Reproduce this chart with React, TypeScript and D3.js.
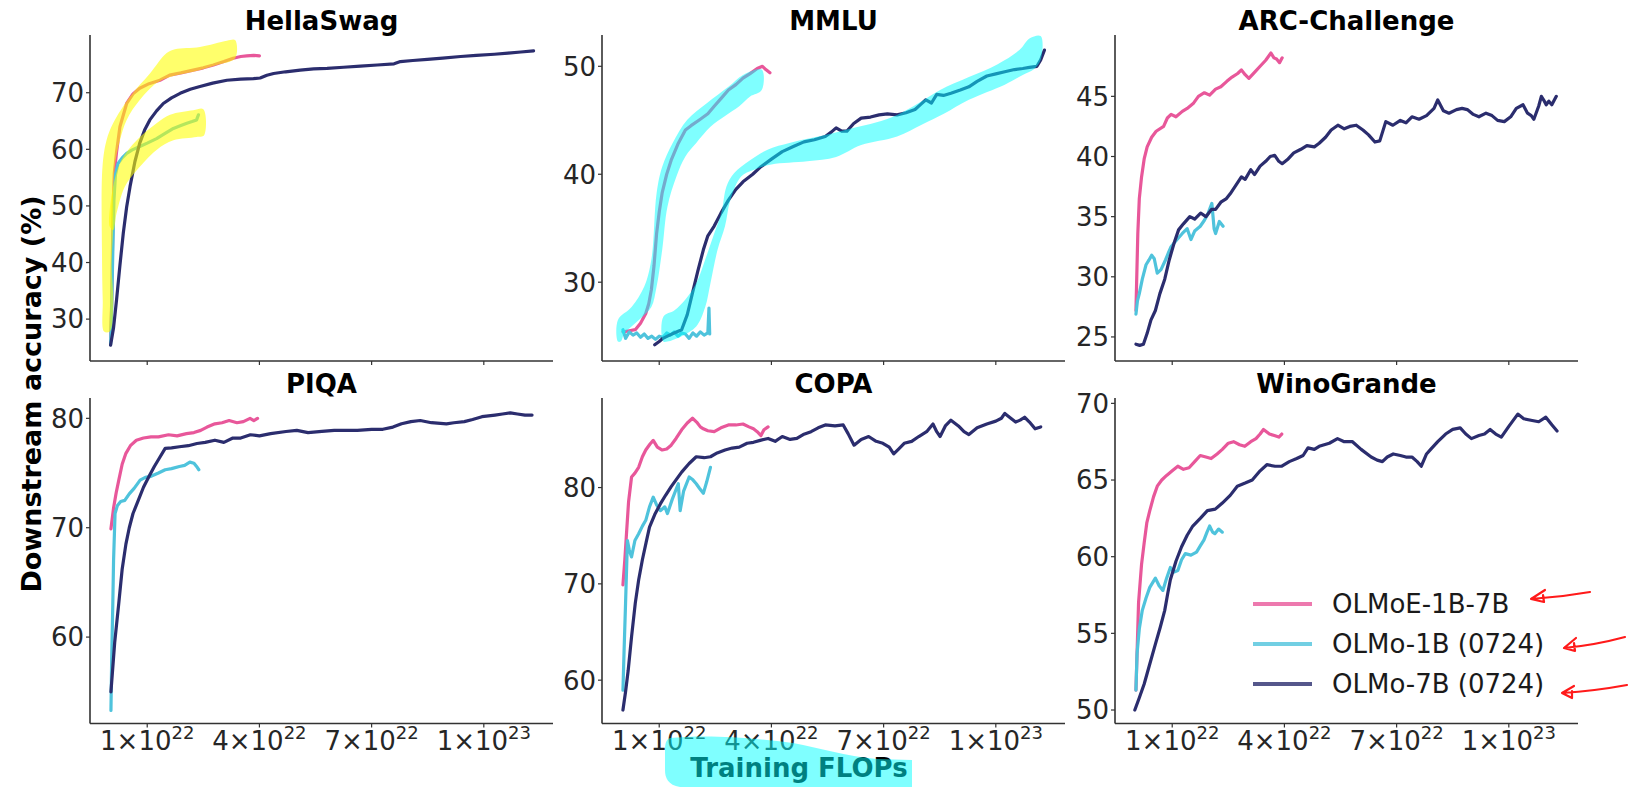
import React from 'react';
import * as d3 from 'd3';

type Pt = [number, number];

// ---------- series names / colours ----------
const SERIES_NAMES = ['OLMoE-1B-7B', 'OLMo-1B (0724)', 'OLMo-7B (0724)'];
const SERIES_COLORS = ['#e8579a', '#4fc3dc', '#2b2d6e'];

// ---------- x axis (training FLOPs, in units of 1e22) ----------
const X_DOMAIN: Pt = [-0.53, 11.85];
const X_TICKS = [1, 4, 7, 10];
const X_TICK_MANT = ['1', '4', '7', '1'];
const X_TICK_EXP = ['22', '22', '22', '23'];

// ---------- HellaSwag ----------
const hsPink: Pt[] = [[0.02,26],[0.05,33],[0.07,42],[0.09,50],[0.12,55.8],[0.18,59.5],[0.27,64],[0.45,68.1],[0.62,69.8],[0.8,70.8],[1.05,71.6],[1.34,72.2],[1.6,73.1],[1.9,73.5],[2.23,74.0],[2.5,74.4],[2.77,74.9],[3.05,75.5],[3.3,76.1],[3.5,76.4],[3.66,76.5],[3.85,76.6],[4.0,76.5]];
const hsCyan: Pt[] = [[0.02,25.5],[0.05,32],[0.08,42],[0.11,51],[0.15,55.5],[0.22,57.5],[0.33,58.5],[0.45,59.3],[0.6,59.9],[0.8,60.5],[1.0,61.1],[1.25,61.9],[1.5,62.9],[1.7,63.7],[1.9,64.2],[2.06,64.6],[2.2,64.9],[2.32,65.2],[2.37,66.1]];
const hsNavy: Pt[] = [[0.02,25.4],[0.1,28.5],[0.18,33.4],[0.27,39.5],[0.36,45.2],[0.45,49.8],[0.54,53.4],[0.67,57.8],[0.8,61.1],[0.93,63.4],[1.07,65.2],[1.25,66.8],[1.43,68.1],[1.65,69.1],[1.88,69.9],[2.15,70.6],[2.41,71.1],[2.75,71.7],[3.13,72.2],[3.5,72.4],[3.84,72.5],[4.02,72.6],[4.2,73.1],[4.38,73.4],[4.7,73.7],[5.09,74.0],[5.45,74.2],[5.81,74.3],[6.25,74.5],[6.7,74.7],[7.15,74.9],[7.6,75.1],[7.77,75.5],[8.1,75.7],[8.49,75.9],[8.9,76.1],[9.38,76.4],[9.8,76.6],[10.28,76.8],[10.65,77.0],[10.99,77.2],[11.33,77.4]];

// ---------- MMLU ----------
const mmluPink: Pt[] = [[0.03,25.4],[0.2,25.5],[0.36,25.6],[0.5,26.2],[0.64,27.1],[0.72,28.0],[0.79,29.3],[0.86,31.5],[0.93,34.5],[1.0,36.5],[1.08,38.3],[1.2,40.0],[1.32,41.3],[1.5,42.8],[1.7,44.1],[1.85,44.5],[2.08,45.05],[2.3,45.6],[2.47,46.3],[2.65,47.0],[2.85,47.8],[3.05,48.3],[3.24,48.9],[3.42,49.3],[3.62,49.8],[3.76,50.0],[3.85,49.7],[3.96,49.4]];
const mmluCyan: Pt[] = [[0.03,25.6],[0.1,24.8],[0.2,25.4],[0.3,25.1],[0.4,25.3],[0.5,24.9],[0.6,25.2],[0.7,24.8],[0.8,25.0],[0.9,24.7],[1.0,25.0],[1.1,24.9],[1.2,25.3],[1.3,25.1],[1.4,25.4],[1.5,25.0],[1.6,25.3],[1.7,25.2],[1.8,24.8],[1.9,25.3],[2.0,25.0],[2.1,25.4],[2.2,25.1],[2.3,25.3],[2.33,27.6],[2.35,25.2]];
const mmluNavy: Pt[] = [[0.88,24.2],[1.0,24.5],[1.1,24.8],[1.22,25.0],[1.4,25.3],[1.6,25.6],[1.75,27.0],[1.89,29.0],[2.03,31.0],[2.18,33.0],[2.3,34.3],[2.47,35.2],[2.65,36.4],[2.85,37.6],[3.05,38.6],[3.24,39.3],[3.5,40.0],[3.72,40.7],[4.0,41.4],[4.29,42.1],[4.6,42.6],[4.87,43.0],[5.15,43.2],[5.44,43.5],[5.6,43.9],[5.73,44.3],[5.88,44.0],[6.02,44.0],[6.2,44.7],[6.4,45.2],[6.65,45.3],[6.88,45.5],[7.1,45.6],[7.36,45.5],[7.6,45.7],[7.84,46.0],[8.0,46.5],[8.13,46.9],[8.28,46.6],[8.42,47.4],[8.6,47.3],[8.8,47.5],[9.05,47.8],[9.28,48.1],[9.5,48.6],[9.76,49.1],[10.0,49.3],[10.24,49.5],[10.5,49.7],[10.72,49.8],[10.9,49.9],[11.1,50.0],[11.2,50.6],[11.3,51.5]];

// ---------- ARC-Challenge ----------
const arcPink: Pt[] = [[0.03,27.2],[0.08,33.6],[0.12,36.5],[0.18,38.3],[0.25,39.8],[0.33,40.8],[0.45,41.6],[0.57,42.1],[0.77,42.5],[0.87,43.2],[0.97,43.5],[1.1,43.3],[1.27,43.75],[1.4,44.0],[1.56,44.4],[1.7,45.0],[1.86,45.3],[2.0,45.1],[2.16,45.6],[2.3,45.8],[2.46,46.25],[2.6,46.6],[2.75,46.9],[2.85,47.2],[2.95,46.8],[3.05,46.5],[3.2,47.0],[3.35,47.5],[3.5,48.0],[3.64,48.6],[3.72,48.2],[3.79,48.1],[3.87,47.8],[3.94,48.2]];
const arcCyan: Pt[] = [[0.03,26.9],[0.07,28.0],[0.12,28.6],[0.2,29.8],[0.3,31.0],[0.38,31.4],[0.45,31.8],[0.52,31.5],[0.6,30.3],[0.7,30.6],[0.82,31.4],[0.9,32.0],[0.97,32.5],[1.1,33.0],[1.27,33.6],[1.4,34.0],[1.5,33.1],[1.6,33.8],[1.75,34.2],[1.86,34.7],[1.95,35.2],[2.06,36.1],[2.12,34.0],[2.16,33.6],[2.26,34.6],[2.36,34.2]];
const arcNavy: Pt[] = [[0.03,24.4],[0.13,24.3],[0.23,24.4],[0.33,25.3],[0.43,26.4],[0.55,27.2],[0.67,28.6],[0.8,29.8],[0.92,31.4],[1.05,32.8],[1.17,33.9],[1.3,34.4],[1.47,35.0],[1.6,34.8],[1.76,35.3],[1.9,35.0],[2.05,35.6],[2.16,35.6],[2.3,36.2],[2.45,36.5],[2.55,36.9],[2.7,37.6],[2.85,38.3],[2.95,38.1],[3.1,38.9],[3.2,38.5],[3.35,39.2],[3.5,39.6],[3.62,40.0],[3.74,40.1],[3.85,39.6],[3.94,39.4],[4.1,39.8],[4.25,40.3],[4.44,40.6],[4.6,40.9],[4.8,40.8],[4.93,41.1],[5.1,41.6],[5.25,42.2],[5.43,42.6],[5.6,42.3],[5.75,42.5],[5.92,42.6],[6.1,42.2],[6.25,41.8],[6.42,41.2],[6.55,41.3],[6.71,42.9],[6.9,42.6],[7.1,43.0],[7.25,42.8],[7.41,43.3],[7.6,43.1],[7.8,43.4],[8.0,44.0],[8.1,44.7],[8.25,43.8],[8.4,43.6],[8.6,43.9],[8.75,44.0],[8.89,43.9],[9.05,43.5],[9.2,43.3],[9.39,43.6],[9.55,43.4],[9.7,43.0],[9.88,42.9],[10.05,43.3],[10.2,44.0],[10.38,44.3],[10.5,43.6],[10.6,43.4],[10.67,43.1],[10.8,44.2],[10.87,45.0],[10.95,44.6],[11.0,44.3],[11.07,44.6],[11.15,44.3],[11.27,45.0]];

// ---------- PIQA ----------
const piqaPink: Pt[] = [[0.03,69.9],[0.1,71.8],[0.17,73.2],[0.24,74.35],[0.33,75.8],[0.43,76.8],[0.55,77.5],[0.71,78.0],[0.9,78.2],[1.1,78.3],[1.3,78.3],[1.57,78.5],[1.8,78.4],[2.05,78.6],[2.25,78.7],[2.43,78.9],[2.6,79.2],[2.81,79.5],[3.0,79.6],[3.19,79.8],[3.4,79.6],[3.57,79.7],[3.75,80.0],[3.85,79.8],[3.95,80.0]];
const piqaCyan: Pt[] = [[0.03,53.3],[0.05,58],[0.08,63.1],[0.1,67],[0.14,71.3],[0.2,72.0],[0.29,72.4],[0.4,72.5],[0.52,73.1],[0.65,73.6],[0.81,74.35],[0.95,74.6],[1.1,74.7],[1.3,75.0],[1.48,75.3],[1.65,75.4],[1.86,75.6],[2.0,75.7],[2.14,76.0],[2.25,75.9],[2.32,75.6],[2.38,75.3]];
const piqaNavy: Pt[] = [[0.03,55.0],[0.13,59.5],[0.24,63.1],[0.33,66.2],[0.43,68.5],[0.52,70.0],[0.62,71.3],[0.75,72.4],[0.9,73.7],[1.05,74.7],[1.19,75.6],[1.33,76.4],[1.48,77.25],[1.65,77.3],[1.86,77.4],[2.1,77.5],[2.33,77.7],[2.55,77.8],[2.81,78.0],[3.05,77.8],[3.29,78.2],[3.5,78.2],[3.76,78.5],[4.0,78.4],[4.3,78.6],[4.71,78.8],[5.0,78.9],[5.3,78.7],[5.67,78.8],[6.0,78.9],[6.3,78.9],[6.62,78.9],[7.0,79.0],[7.3,79.0],[7.57,79.2],[7.8,79.5],[8.05,79.7],[8.3,79.8],[8.6,79.6],[9.0,79.5],[9.2,79.6],[9.48,79.7],[9.7,79.9],[9.95,80.15],[10.3,80.3],[10.5,80.4],[10.71,80.5],[10.9,80.4],[11.1,80.3],[11.29,80.3]];

// ---------- COPA ----------
const copaPink: Pt[] = [[0.03,69.9],[0.08,72.5],[0.12,74.9],[0.18,78.5],[0.26,81.1],[0.35,81.5],[0.45,82.1],[0.55,83.2],[0.64,83.9],[0.75,84.5],[0.84,84.9],[0.95,84.2],[1.08,83.9],[1.2,84.0],[1.32,84.4],[1.45,85.1],[1.6,86.0],[1.75,86.7],[1.89,87.2],[2.0,86.8],[2.1,86.3],[2.18,86.1],[2.3,85.9],[2.47,85.8],[2.65,86.2],[2.85,86.5],[3.05,86.5],[3.24,86.6],[3.4,86.3],[3.52,86.1],[3.62,85.8],[3.72,85.4],[3.8,86.0],[3.91,86.3]];
const copaCyan: Pt[] = [[0.03,58.96],[0.06,63],[0.1,68.0],[0.15,74.5],[0.2,73.5],[0.26,72.8],[0.35,74.5],[0.45,75.2],[0.55,76.0],[0.64,76.6],[0.74,78.0],[0.84,79.0],[0.93,78.2],[1.03,77.6],[1.15,78.0],[1.22,77.3],[1.35,78.8],[1.51,80.4],[1.56,77.6],[1.65,79.6],[1.8,81.1],[1.9,80.8],[1.99,80.4],[2.08,79.9],[2.18,79.4],[2.27,80.6],[2.37,82.1]];
const copaNavy: Pt[] = [[0.03,56.9],[0.1,58.8],[0.17,61.0],[0.26,64.5],[0.36,68.0],[0.45,70.4],[0.55,72.5],[0.65,74.3],[0.74,75.9],[0.88,77.2],[1.03,78.3],[1.17,79.2],[1.32,80.1],[1.45,80.8],[1.6,81.6],[1.8,82.5],[1.99,83.2],[2.2,83.1],[2.37,83.2],[2.55,83.6],[2.76,83.9],[2.95,84.1],[3.14,84.2],[3.35,84.6],[3.52,84.7],[3.7,84.9],[3.91,85.1],[4.1,84.8],[4.29,85.3],[4.5,85.0],[4.68,85.1],[4.85,85.5],[5.06,85.8],[5.25,86.2],[5.44,86.5],[5.7,86.4],[5.92,86.5],[6.05,85.6],[6.21,84.4],[6.4,85.0],[6.6,85.3],[6.8,84.8],[6.98,84.6],[7.15,84.2],[7.27,83.5],[7.4,84.0],[7.55,84.6],[7.75,84.8],[7.94,85.3],[8.15,85.8],[8.32,86.6],[8.42,85.8],[8.51,85.3],[8.65,86.4],[8.8,87.0],[9.0,86.4],[9.15,85.8],[9.28,85.5],[9.5,86.2],[9.76,86.6],[10.0,86.9],[10.15,87.2],[10.24,87.7],[10.4,87.2],[10.53,86.8],[10.65,87.0],[10.77,87.3],[10.9,86.8],[11.05,86.1],[11.2,86.3]];

// ---------- WinoGrande ----------
const winoPink: Pt[] = [[0.03,51.3],[0.1,57.0],[0.18,59.5],[0.25,60.9],[0.32,62.2],[0.4,63.0],[0.5,63.9],[0.6,64.6],[0.72,65.0],[0.85,65.3],[1.0,65.6],[1.15,65.9],[1.3,65.7],[1.45,65.8],[1.6,66.2],[1.75,66.6],[1.9,66.5],[2.04,66.4],[2.2,66.7],[2.34,67.0],[2.5,67.4],[2.64,67.5],[2.8,67.3],[2.94,67.2],[3.1,67.5],[3.24,67.7],[3.35,68.0],[3.44,68.3],[3.6,68.0],[3.73,67.9],[3.85,67.8],[3.93,68.0]];
const winoCyan: Pt[] = [[0.03,51.3],[0.06,53.7],[0.12,55.3],[0.2,56.5],[0.3,57.3],[0.4,58.0],[0.55,58.6],[0.65,58.1],[0.75,57.8],[0.85,58.6],[0.95,59.3],[1.05,59.0],[1.15,59.1],[1.25,59.8],[1.35,60.2],[1.5,60.1],[1.65,60.3],[1.75,60.7],[1.85,61.1],[1.93,61.6],[2.0,62.0],[2.08,61.6],[2.14,61.5],[2.24,61.8],[2.34,61.6]];
const winoNavy: Pt[] = [[0.0,50.0],[0.12,50.8],[0.25,51.7],[0.4,53.0],[0.55,54.3],[0.68,55.4],[0.8,56.5],[0.88,57.6],[0.95,58.5],[1.1,59.7],[1.25,60.65],[1.4,61.4],[1.55,62.0],[1.75,62.5],[1.94,63.0],[2.15,63.1],[2.34,63.5],[2.55,64.0],[2.74,64.6],[2.95,64.8],[3.14,65.0],[3.35,65.6],[3.53,66.0],[3.75,65.9],[3.93,65.9],[4.13,66.2],[4.33,66.4],[4.5,66.6],[4.63,67.1],[4.8,67.0],[4.93,67.2],[5.2,67.4],[5.42,67.7],[5.6,67.5],[5.82,67.5],[6.05,67.0],[6.32,66.5],[6.48,66.3],[6.62,66.2],[6.75,66.5],[6.91,66.7],[7.1,66.6],[7.25,66.5],[7.41,66.5],[7.55,66.2],[7.66,65.9],[7.8,66.7],[7.91,67.0],[8.1,67.5],[8.31,68.0],[8.5,68.3],[8.7,68.4],[8.85,68.0],[9.0,67.7],[9.2,67.9],[9.35,68.0],[9.5,68.3],[9.65,68.0],[9.8,67.8],[10.0,68.5],[10.24,69.3],[10.4,69.0],[10.59,68.9],[10.8,68.8],[10.99,69.1],[11.15,68.6],[11.29,68.2]];

// ---------- annotation highlights (data coordinates of their panel) ----------
const hlYellowPink: Pt[] = [[-0.153,27.8],[-0.19,33.4],[-0.21,42.2],[-0.196,56.9],[-0.088,61.6],[0.088,64.6],[0.536,69.3],[1.072,73.4],[1.52,77.0],[1.74,77.7],[2.41,78.1],[3.13,79.2],[3.35,79.3],[3.35,76.1],[2.86,74.9],[2.23,73.7],[1.61,72.8],[1.25,71.7],[0.8,68.7],[0.45,65.2],[0.27,61.6],[0.13,56.9],[0.09,52.3],[0.09,46.3],[0.05,39.3],[0.09,32.8],[0.0,27.8]];
const hlYellowCyan: Pt[] = [[0.0,46.3],[0.088,53.4],[0.31,58.1],[0.72,61.6],[1.25,64.6],[1.61,66.1],[2.23,66.9],[2.5,67.1],[2.52,62.5],[2.32,62.2],[1.7,61.6],[1.25,59.9],[0.72,56.3],[0.4,53.4],[0.18,48.7],[0.09,45.7]];
const hlCyanPink: Pt[] = [[-0.104,24.5],[-0.104,26.5],[0.26,27.7],[0.6,29.6],[0.79,32.1],[0.93,38.25],[1.08,40.7],[1.36,42.9],[1.75,45.05],[2.28,46.6],[2.85,48.1],[3.24,49.2],[3.74,49.7],[3.74,47.8],[3.43,47.2],[3.14,46.3],[2.76,45.4],[2.37,44.4],[1.99,42.9],[1.7,41.65],[1.46,39.8],[1.22,37.0],[1.08,33.0],[0.93,29.6],[0.79,27.7],[0.55,26.8],[0.26,25.9],[0.07,25.3],[-0.03,24.5]];
const hlCyanNavy: Pt[] = [[1.11,24.5],[1.11,26.8],[1.41,27.4],[1.7,28.4],[1.99,29.9],[2.23,32.1],[2.47,34.5],[2.66,36.4],[2.8,38.9],[3.0,40.1],[3.43,41.3],[3.91,42.3],[4.48,42.9],[5.06,43.35],[5.64,43.8],[6.21,44.3],[6.79,44.8],[7.36,45.5],[7.94,46.6],[8.51,47.8],[9.28,49.0],[10.05,50.2],[10.63,51.5],[10.91,52.6],[11.2,52.8],[11.2,50.6],[11.01,49.7],[10.72,49.2],[10.24,48.3],[9.28,46.9],[8.61,45.6],[8.03,44.6],[7.36,43.5],[6.4,42.7],[5.73,41.6],[4.96,41.2],[4.0,40.9],[3.52,40.4],[3.19,39.8],[2.9,37.6],[2.76,35.2],[2.56,33.0],[2.37,29.9],[2.23,27.7],[1.99,25.9],[1.6,25.0],[1.22,24.5]];

type Panel = {
  title: string; row: number; col: number;
  yDomain: Pt; yTicks: number[];
  series: Pt[][];
  highlights: { pts: Pt[]; color: string }[];
};

const YELLOW = 'rgba(255,255,0,0.58)';
const CYAN_HL = 'rgba(0,255,255,0.5)';

const PANELS: Panel[] = [
  { title: 'HellaSwag', row: 0, col: 0, yDomain: [22.6, 80.2], yTicks: [30, 40, 50, 60, 70], series: [hsPink, hsCyan, hsNavy],
    highlights: [{ pts: hlYellowPink, color: YELLOW }, { pts: hlYellowCyan, color: YELLOW }] },
  { title: 'MMLU', row: 0, col: 1, yDomain: [22.7, 52.9], yTicks: [30, 40, 50], series: [mmluPink, mmluCyan, mmluNavy],
    highlights: [{ pts: hlCyanPink, color: CYAN_HL }, { pts: hlCyanNavy, color: CYAN_HL }] },
  { title: 'ARC-Challenge', row: 0, col: 2, yDomain: [23.0, 50.1], yTicks: [25, 30, 35, 40, 45], series: [arcPink, arcCyan, arcNavy], highlights: [] },
  { title: 'PIQA', row: 1, col: 0, yDomain: [52.1, 81.86], yTicks: [60, 70, 80], series: [piqaPink, piqaCyan, piqaNavy], highlights: [] },
  { title: 'COPA', row: 1, col: 1, yDomain: [55.5, 89.3], yTicks: [60, 70, 80], series: [copaPink, copaCyan, copaNavy], highlights: [] },
  { title: 'WinoGrande', row: 1, col: 2, yDomain: [49.12, 70.35], yTicks: [50, 55, 60, 65, 70], series: [winoPink, winoCyan, winoNavy], highlights: [] },
];

// ---------- layout ----------
const W = 1640, H = 787;
const COL_LEFT = [90, 602, 1115];
const AX_W = 463;
const ROW_TOP = [35, 398];
const ROW_BOTTOM = [361, 723.5];
const FONT = 'DejaVu Sans, Verdana, sans-serif';
const TICK_FS = 26;
const AXIS_COLOR = '#333';

function PanelView({ p }: { p: Panel }) {
  const x0 = COL_LEFT[p.col], x1 = x0 + AX_W;
  const yTop = ROW_TOP[p.row], yBot = ROW_BOTTOM[p.row];
  const x = d3.scaleLinear().domain(X_DOMAIN).range([x0, x1]);
  const y = d3.scaleLinear().domain(p.yDomain).range([yBot, yTop]);
  const line = d3.line<Pt>().x(d => x(d[0])).y(d => y(d[1]));
  const area = d3.line<Pt>().x(d => x(d[0])).y(d => y(d[1])).curve(d3.curveCatmullRomClosed.alpha(0.5));
  return (
    <g>
      <text x={(x0 + x1) / 2} y={yTop - 5} textAnchor="middle" fontFamily={FONT} fontWeight="bold" fontSize={26} fill="#000">{p.title}</text>
      <line x1={x0} y1={yTop} x2={x0} y2={yBot} stroke={AXIS_COLOR} strokeWidth={1.6} />
      <line x1={x0} y1={yBot} x2={x1} y2={yBot} stroke={AXIS_COLOR} strokeWidth={1.6} />
      {p.yTicks.map(t => (
        <g key={t}>
          <line x1={x0 - 4} x2={x0} y1={y(t)} y2={y(t)} stroke={AXIS_COLOR} strokeWidth={1.2} />
          <text x={x0 - 6} y={y(t)} dy="0.36em" textAnchor="end" fontFamily={FONT} fontSize={TICK_FS} fill="#262626">{t}</text>
        </g>
      ))}
      {X_TICKS.map((t, i) => (
        <g key={t}>
          <line x1={x(t)} x2={x(t)} y1={yBot} y2={yBot + 4} stroke={AXIS_COLOR} strokeWidth={1.2} />
          {p.row === 1 && (
            <text x={x(t)} y={yBot + 26} textAnchor="middle" fontFamily={FONT} fontSize={TICK_FS} fill="#262626">
              {X_TICK_MANT[i]}×10<tspan dy={-11} fontSize={18}>{X_TICK_EXP[i]}</tspan>
            </text>
          )}
        </g>
      ))}
      {p.series.map((s, i) => (
        <path key={i} d={line(s) || ''} fill="none" stroke={SERIES_COLORS[i]} strokeWidth={3.2} strokeLinejoin="round" strokeLinecap="round" />
      ))}
      {p.highlights.map((h, i) => (
        <path key={'h' + i} d={area(h.pts) || ''} fill={h.color} stroke="none" />
      ))}
    </g>
  );
}

// legend + arrows
const LEG_X1 = 1253, LEG_X2 = 1312, LEG_TX = 1332;
const LEG_Y = [604, 644, 684];
const ARROW_TIPS: Pt[] = [[1531, 599], [1564, 648], [1562, 693]];
const ARROW_TAILS: Pt[] = [[59, -7], [61, -11], [65, -8]];
const ARROW_ARM1: Pt[] = [[14, -9], [12, -10], [12, -7]];
const ARROW_ARM2: Pt[] = [[13, 3], [11, 3], [10, 5]];

export default function App() {
  return (
    <div style={{ position: 'absolute', left: 0, top: 0, width: W, height: H, background: '#fff' }}>
      <svg width={W} height={H} style={{ display: 'block' }}>
        <rect x={0} y={0} width={W} height={H} fill="#fff" />
        {PANELS.map(p => <PanelView key={p.title} p={p} />)}
        <text transform="translate(41,394) rotate(-90)" textAnchor="middle" fontFamily={FONT} fontWeight="bold" fontSize={27} fill="#000">Downstream accuracy (%)</text>
        <text x={799} y={777} textAnchor="middle" fontFamily={FONT} fontWeight="bold" fontSize={26} fill="#000">Training FLOPs</text>
        <path d="M670,738 C700,735 740,736 793,743 C820,748 845,756 877,759 L912,760 L912,787 L680,787 C668,785 665,778 665,770 L665,750 C665,742 667,739 670,738 Z" fill={CYAN_HL} />
        {SERIES_NAMES.map((n, i) => (
          <g key={n}>
            <line x1={LEG_X1} x2={LEG_X2} y1={LEG_Y[i]} y2={LEG_Y[i]} stroke={SERIES_COLORS[i]} strokeOpacity={0.8} strokeWidth={4} />
            <text x={LEG_TX} y={LEG_Y[i]} dy="0.36em" fontFamily={FONT} fontSize={26} fill="#1a1a1a">{n}</text>
          </g>
        ))}
        {ARROW_TIPS.map((t, i) => {
          const [tx, ty] = t;
          const tail = ARROW_TAILS[i], a1 = ARROW_ARM1[i], a2 = ARROW_ARM2[i];
          const d = `M${tx + tail[0]},${ty + tail[1]} Q${tx + tail[0] * 0.5},${ty + tail[1] * 0.25} ${tx},${ty}` +
            ` M${tx + a1[0]},${ty + a1[1]} L${tx},${ty} L${tx + a2[0]},${ty + a2[1]} L${tx + a1[0] - 2},${ty + a1[1] + 5}`;
          return <path key={i} d={d} fill="none" stroke="#ff1a1a" strokeWidth={2.2} strokeLinecap="round" strokeLinejoin="round" />;
        })}
      </svg>
    </div>
  );
}
